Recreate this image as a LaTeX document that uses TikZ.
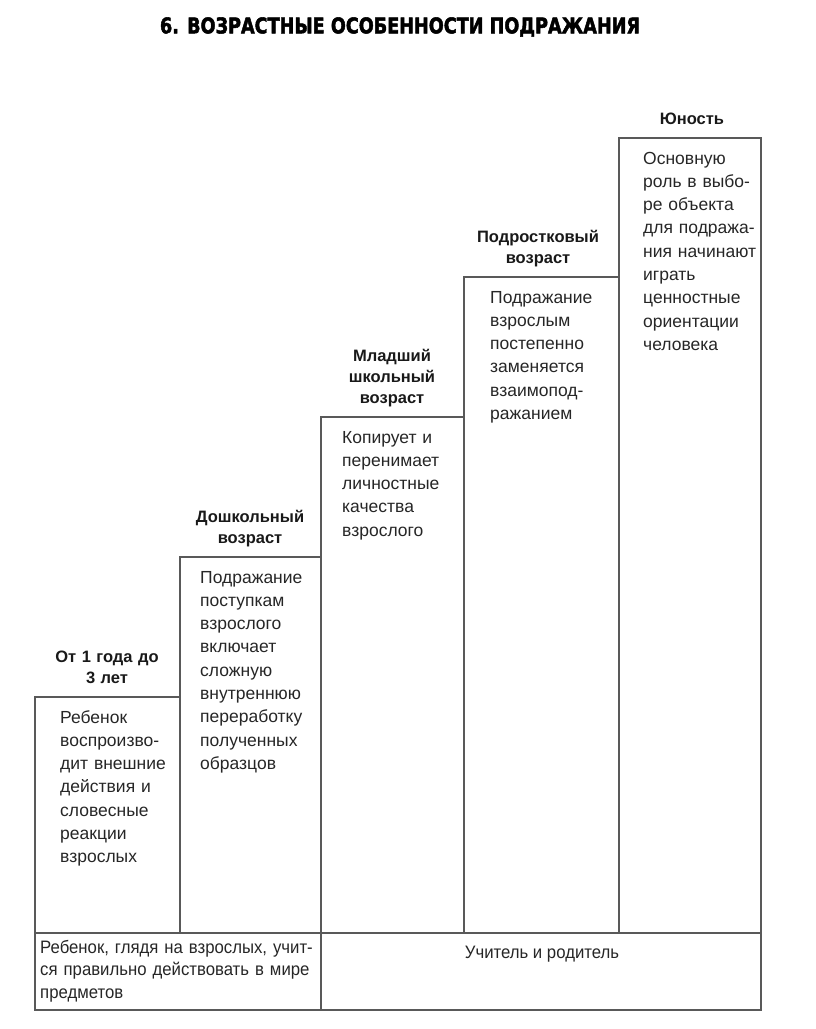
\documentclass[tikz,border=0pt]{standalone}
\usepackage{fontspec}
\usepackage{graphicx}
\usepackage{tikz}
\setmainfont{Liberation Sans}
\newfontfamily\narrowfont[FakeStretch=0.93]{Liberation Sans}
\newfontfamily\titlefont[FakeBold=2.5]{DejaVu Sans}

\tikzset{
    stage/.style={draw=black!65, line width=1.5pt},
    stagehead/.style={anchor=base, align=center, text width=150pt, inner sep=0pt,
        text=black!90, font=\bfseries\fontsize{16.5}{21}\selectfont},
    stagetext/.style={anchor=base west, align=left, text width=150pt, inner sep=0pt,
        text=black!85, font=\fontsize{17.5}{23.3}\selectfont},
    basetext/.style={anchor=base west, align=left, text width=300pt, inner sep=0pt,
        text=black!85, font=\narrowfont\fontsize{18}{22.5}\selectfont},
}

\begin{document}
\begin{tikzpicture}[x=1pt, y=-1pt]
    \useasboundingbox (0,0) rectangle (816,1029);
    \node (title) at (400,27) {\resizebox{480pt}{16pt}{\titlefont\bfseries 6. ВОЗРАСТНЫЕ ОСОБЕННОСТИ ПОДРАЖАНИЯ}};

    \draw[stage] (35,697) rectangle (180,933);
    \draw[stage] (180,557) rectangle (321,933);
    \draw[stage] (321,417) rectangle (464,933);
    \draw[stage] (464,277) rectangle (619,933);
    \draw[stage] (619,138) rectangle (761,933);
    \draw[stage] (35,933) rectangle (761,1010);
    \draw[stage] (321,933) -- (321,1010);

    \node[stagehead] (head1) at (107,662) {От 1 года до\\3 лет};
    \node[stagehead] (head2) at (250,522) {Дошкольный\\возраст};
    \node[stagehead] (head3) at (392,361) {Младший\\школьный\\возраст};
    \node[stagehead] (head4) at (538,242) {Подростковый\\возраст};
    \node[stagehead] (head5) at (692,124) {Юность};

    \node[stagetext] (text1) at (60,723) {Ребенок\\воспроизво-\\дит внешние\\действия и\\словесные\\реакции\\взрослых};
    \node[stagetext] (text2) at (200,583) {Подражание\\поступкам\\взрослого\\включает\\сложную\\внутреннюю\\переработку\\полученных\\образцов};
    \node[stagetext] (text3) at (342,443) {Копирует и\\перенимает\\личностные\\качества\\взрослого};
    \node[stagetext] (text4) at (490,303) {Подражание\\взрослым\\постепенно\\заменяется\\взаимопод-\\ражанием};
    \node[stagetext] (text5) at (643,164) {Основную\\роль в выбо-\\ре объекта\\для подража-\\ния начинают\\играть\\ценностные\\ориентации\\человека};

    \node[basetext] (child) at (40,953) {Ребенок, глядя на взрослых, учит-\\ся правильно действовать в мире\\предметов};
    \node[basetext, anchor=base, align=center, text width=] (teacher) at (542,958) {Учитель и родитель};
\end{tikzpicture}
\end{document}
